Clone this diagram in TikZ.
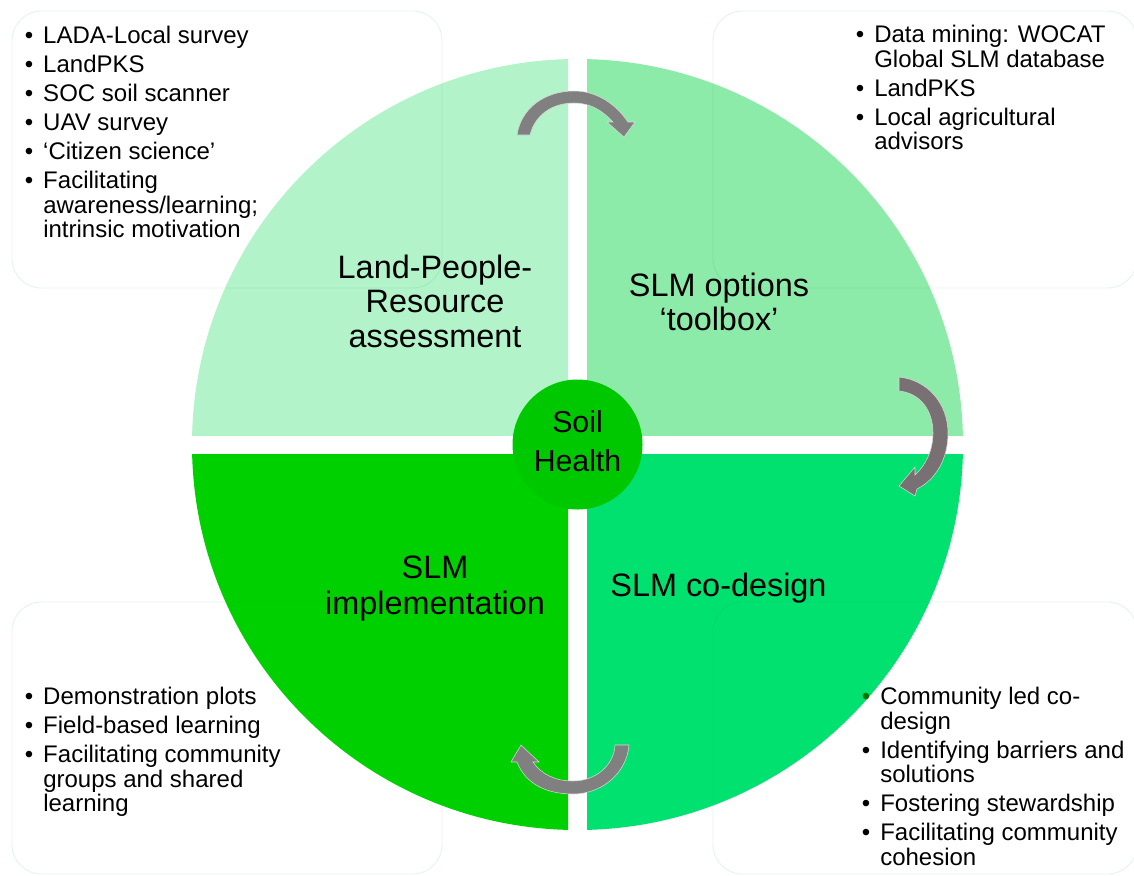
\documentclass[tikz,border=0pt]{standalone}
\usepackage{fontspec}
\setmainfont{Liberation Sans}
\definecolor{qtl}{HTML}{B2F3C9}
\definecolor{qtr}{HTML}{8CEBA9}
\definecolor{qbl}{HTML}{00D000}
\definecolor{qbr}{HTML}{00E16F}
\definecolor{hub}{HTML}{00C800}
\definecolor{boxline}{HTML}{00A040}
\definecolor{arrowgrey}{HTML}{808080}
\definecolor{arrowgreyb}{HTML}{787072}
\newcommand{\itm}[1]{\llap{\textbullet\hspace{7.5pt}}#1}
\newcommand{\nxt}{\\[3.4pt]}
\tikzset{
  panel/.style={draw=boxline,draw opacity=0.1,line width=0.7pt,rounded corners=22pt,fill=none},
  listtext/.style={anchor=north west,inner sep=0pt,align=left,font=\fontsize{18}{18.4}\selectfont},
  quadtext/.style={inner sep=0pt,align=center,font=\fontsize{24.3}{25.9}\selectfont},
  turn/.style={draw=white!85!black,line width=0.4pt,fill=arrowgrey,line join=miter},
}
\begin{document}
\begin{tikzpicture}[x=0.75pt,y=-0.75pt]
\useasboundingbox (0,0) rectangle (1134,875);
\fill[white] (0,0) rectangle (1134,875);
% quadrants
\begin{scope}\clip (0,0) rectangle (568,435);\fill[qtl] (577.5,444.5) circle [radius=385.5];\end{scope}
\begin{scope}\clip (587,0) rectangle (1134,435);\fill[qtr] (577.5,444.5) circle [radius=385.5];\end{scope}
\begin{scope}\clip (0,454) rectangle (568,875);\fill[qbl] (577.5,444.5) circle [radius=385.5];\end{scope}
\begin{scope}\clip (587,454) rectangle (1134,875);\fill[qbr] (577.5,444.5) circle [radius=385.5];\end{scope}
% panels
\draw[panel] (12,11) rectangle (442,288);
\draw[panel] (713,11) rectangle (1137,288);
\draw[panel] (12,602) rectangle (442,874);
\draw[panel] (713,602) rectangle (1137,874);
% hub
\node[circle,fill=hub,minimum size=97.5pt,inner sep=0pt] (hub) at (577.5,444.5) {};
\node[inner sep=0pt,align=center,font=\fontsize{22.7}{29.2}\selectfont] (hublabel) at (577.5,441.5) {Soil\\Health};
% quadrant labels
\node[quadtext] (lpr) at (435,301) {Land-People-\\Resource\\assessment};
\node[quadtext] (opt) at (719,302) {SLM options\\‘toolbox’};
\node[quadtext,font=\fontsize{24.3}{27}\selectfont] (imp) at (435,589) {SLM\\implementation};
\node[quadtext] (cod) at (718.5,588) {SLM co-design};
% lists
\node[listtext] (l1) at (43,25.5) {\itm{LADA-Local survey}\nxt\itm{LandPKS}\nxt\itm{SOC soil scanner}\nxt\itm{UAV survey}\nxt\itm{‘Citizen science’}\nxt\itm{Facilitating}\\awareness/learning;\\intrinsic motivation};
\node[listtext] (l2) at (874,25) {\itm{Data mining: WOCAT}\\Global SLM database\nxt\itm{LandPKS}\nxt\itm{Local agricultural}\\advisors};
\node[listtext] (l3) at (43,687) {\itm{Demonstration plots}\nxt\itm{Field-based learning}\nxt\itm{Facilitating community}\\groups and shared\\learning};
\node[listtext] (l4) at (880,687) {\llap{\textcolor{black!55!green}{\textbullet}\hspace{7.5pt}}Community led co-\\design\nxt\itm{Identifying barriers and}\\solutions\nxt\itm{Fostering stewardship}\nxt\itm{Facilitating community}\\cohesion};
% cycle arrows
\draw[turn] (517,135) .. controls (521,108) and (545,91) .. (574,91)
  .. controls (596,91) and (615,103) .. (628,122)
  -- (635,122) -- (624,137) -- (607,122) -- (613,122)
  .. controls (602,110) and (590,103) .. (574,103)
  .. controls (552,103) and (535,115) .. (530,135) -- cycle;
\draw[turn,fill=arrowgreyb] (899,377) .. controls (928,380) and (948,404) .. (948,433)
  .. controls (948,460) and (935,480) .. (917,489)
  -- (915,496) -- (899,486) -- (915,467) -- (915,475)
  .. controls (926,465) and (933,450) .. (933,433)
  .. controls (933,410) and (920,393) .. (899,391) -- cycle;
\draw[turn] (629,745) .. controls (627,772) and (603,794) .. (573,794)
  .. controls (548,794) and (526,785) .. (517,762)
  -- (511,762) -- (521,745) -- (539,762) -- (533,762)
  .. controls (541,774) and (555,781) .. (573,781)
  .. controls (596,781) and (614,765) .. (615,745) -- cycle;
\end{tikzpicture}
\end{document}
